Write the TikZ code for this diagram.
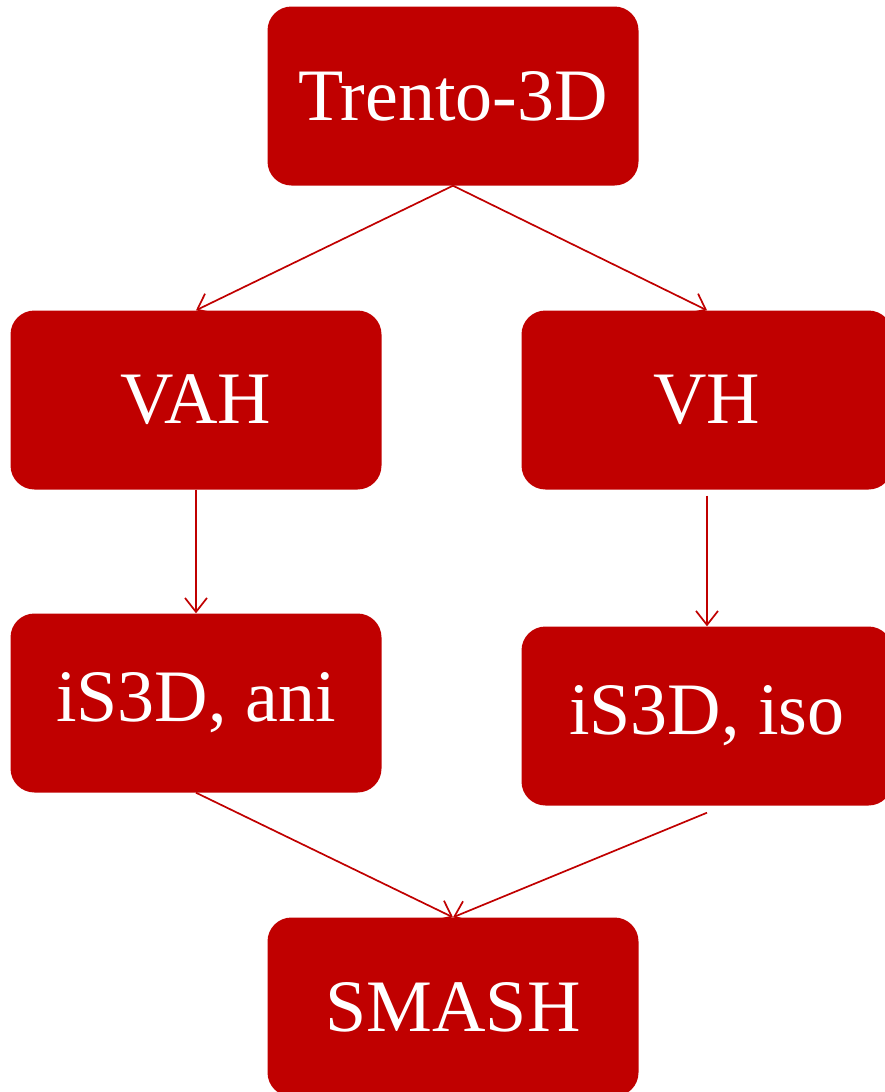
\documentclass[tikz,border=0pt]{standalone}
\usepackage{fontspec}
\setmainfont{Liberation Serif}
\usetikzlibrary{arrows.meta}
\definecolor{boxred}{HTML}{C00000}
\begin{document}
\begin{tikzpicture}[x=1pt,y=-1pt,
  stage/.style={rectangle, rounded corners=24pt, fill=boxred, text=white,
    minimum width=371pt, minimum height=179pt, inner sep=0pt,
    font=\fontsize{74}{80}\selectfont},
  flow/.style={draw=boxred, line width=1.7pt,
    -{Straight Barb[length=14pt,width=22pt,line width=1.7pt]}}]
\useasboundingbox (0,0) rectangle (884,1092);
\node[stage] (trento) at (453,96)   {Trento-3D};
\node[stage] (vah)    at (196,400)  {VAH};
\node[stage] (vh)     at (707,400)  {VH};
\node[stage] (ani)    at (196,703)  {iS3D, ani};
\node[stage] (iso)    at (707,716)  {iS3D, iso};
\node[stage] (smash)  at (453,1007) {SMASH};
\draw[flow] (trento.south) -- (vah.north);
\draw[flow] (trento.south) -- (vh.north);
\draw[flow] (vah.south) -- (ani.north);
\draw[flow] ([yshift=-6pt]vh.south) -- (iso.north);
\draw[flow] (ani.south) -- (smash.north);
\draw[flow] ([yshift=-7pt]iso.south) -- (smash.north);
\end{tikzpicture}
\end{document}
